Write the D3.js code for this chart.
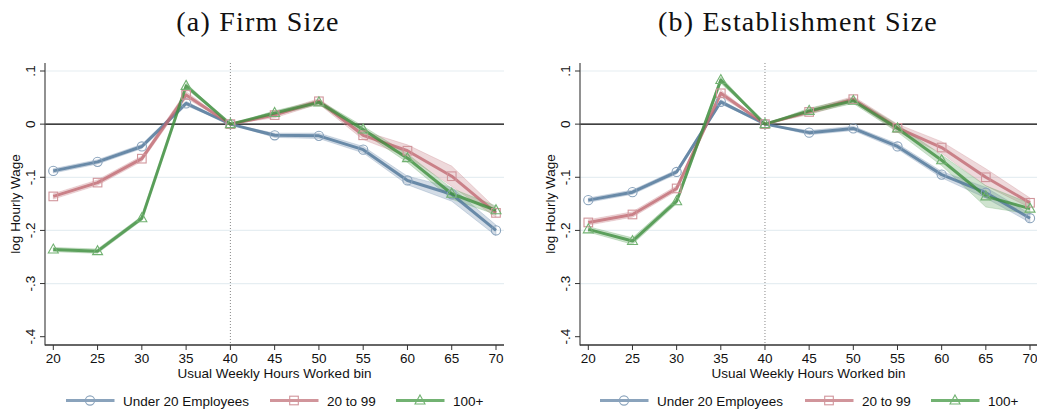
<!DOCTYPE html>
<html><head><meta charset="utf-8">
<script src="https://cdn.jsdelivr.net/npm/d3@7"></script>
<style>body{margin:0;background:#fff}svg{display:block}</style>
</head><body>
<svg id="c" width="1037" height="412"></svg>
<script>
const hours = [20,25,30,35,40,45,50,55,60,65,70];
const xTicks = [20,25,30,35,40,45,50,55,60,65,70];
const yTicks = [0.1,0,-0.1,-0.2,-0.3,-0.4];
const yTickLabels = [".1","0","-.1","-.2","-.3","-.4"];
const seriesNames = ["Under 20 Employees","20 to 99","100+"];
const panelTitles = ["(a) Firm Size","(b) Establishment Size"];
const xLabel = "Usual Weekly Hours Worked bin";
const yLabel = "log Hourly Wage";

// Panel (a) Firm Size
const firmUnder20 = [-0.088,-0.071,-0.042,0.039,0,-0.021,-0.022,-0.048,-0.106,-0.132,-0.200];
const firm20to99  = [-0.136,-0.110,-0.065,0.055,0,0.017,0.043,-0.021,-0.050,-0.098,-0.167];
const firm100     = [-0.236,-0.239,-0.177,0.072,0,0.021,0.041,-0.010,-0.064,-0.131,-0.162];
const firmUnder20Se = [0.004,0.004,0.004,0.004,0,0.004,0.005,0.006,0.008,0.013,0.010];
const firm20to99Se  = [0.005,0.005,0.005,0.006,0,0.005,0.005,0.008,0.011,0.019,0.008];
const firm100Se     = [0.004,0.004,0.004,0.005,0,0.004,0.004,0.006,0.008,0.010,0.008];

// Panel (b) Establishment Size
const estUnder20 = [-0.143,-0.128,-0.090,0.042,0,-0.016,-0.008,-0.042,-0.095,-0.129,-0.177];
const est20to99  = [-0.185,-0.170,-0.121,0.058,0,0.023,0.047,-0.007,-0.044,-0.100,-0.148];
const est100     = [-0.198,-0.220,-0.145,0.083,0,0.025,0.044,-0.008,-0.068,-0.136,-0.159];
const estUnder20Se = [0.004,0.004,0.004,0.004,0,0.004,0.004,0.005,0.006,0.010,0.008];
const est20to99Se  = [0.005,0.005,0.005,0.006,0,0.005,0.005,0.007,0.011,0.016,0.009];
const est100Se     = [0.005,0.006,0.005,0.006,0,0.005,0.005,0.007,0.010,0.020,0.010];

const lineColors = ["#4f7599","#c06a73","#3f8f3f"];
const bandColors = ["#6d8cab","#c78088","#5fa35f"];
const legendColors = ["#8aa3bc","#d1959b","#72b272"];

const svg = d3.select("#c");
const SANS = "'Liberation Sans', Arial, sans-serif";

const panels = [
  {title: panelTitles[0], series:[firmUnder20,firm20to99,firm100], se:[firmUnder20Se,firm20to99Se,firm100Se],
   axisX:45, right:504, x20:53.3, x70:496, titleX:258, legendX:[66,270,396]},
  {title: panelTitles[1], series:[estUnder20,est20to99,est100], se:[estUnder20Se,est20to99Se,est100Se],
   axisX:580, right:1037, x20:588.3, x70:1030, titleX:798, legendX:[600,805,931]}
];

const yTop = 63, yBottom = 345;
const y = d3.scaleLinear().domain([-0.4,0.1]).range([336.7,71]);

function marker(g, k, cx, cy, color) {
  if (k===0) g.append("circle").attr("cx",cx).attr("cy",cy).attr("r",4.6)
      .attr("fill","none").attr("stroke",color).attr("stroke-width",1.1);
  else if (k===1) g.append("rect").attr("x",cx-4.3).attr("y",cy-4.3).attr("width",8.6).attr("height",8.6)
      .attr("fill","none").attr("stroke",color).attr("stroke-width",1.1);
  else g.append("path").attr("d",`M${cx},${cy-5.5}L${cx+5},${cy+3.5}L${cx-5},${cy+3.5}Z`)
      .attr("fill","none").attr("stroke",color).attr("stroke-width",1.1);
}

panels.forEach(p => {
  const x = d3.scaleLinear().domain([20,70]).range([p.x20,p.x70]);
  const g = svg.append("g");

  // title
  g.append("text").attr("x",p.titleX).attr("y",31).attr("text-anchor","middle")
    .attr("font-family","'Liberation Serif','Times New Roman',serif").attr("font-size",28)
    .attr("letter-spacing",1.2).attr("fill","#111").text(p.title);

  // gridlines
  yTicks.forEach(t => {
    if (t===0 || t===-0.4) return;
    g.append("line").attr("x1",p.axisX).attr("x2",p.right).attr("y1",y(t)).attr("y2",y(t))
      .attr("stroke","#e6eef2").attr("stroke-width",1.2);
  });
  // zero line
  g.append("line").attr("x1",p.axisX).attr("x2",p.right).attr("y1",y(0)).attr("y2",y(0))
    .attr("stroke","#000").attr("stroke-width",1.2);
  // vertical dotted at 40
  g.append("line").attr("x1",x(40)).attr("x2",x(40)).attr("y1",yTop).attr("y2",yBottom)
    .attr("stroke","#888").attr("stroke-width",1).attr("stroke-dasharray","1,2");

  // bands
  p.series.forEach((s,k) => {
    const area = d3.area().x((d,i)=>x(hours[i])).y0((d,i)=>y(d-p.se[k][i])).y1((d,i)=>y(d+p.se[k][i]));
    g.append("path").attr("d",area(s)).attr("fill",bandColors[k]).attr("fill-opacity",0.3)
      .attr("stroke",bandColors[k]).attr("stroke-opacity",0.35).attr("stroke-width",0.8);
  });
  // lines
  p.series.forEach((s,k) => {
    const line = d3.line().x((d,i)=>x(hours[i])).y(d=>y(d));
    g.append("path").attr("d",line(s)).attr("fill","none").attr("stroke",lineColors[k])
      .attr("stroke-width",3).attr("stroke-opacity",0.8).attr("stroke-linejoin","round");
  });
  // markers
  p.series.forEach((s,k) => {
    s.forEach((d,i) => marker(g,k,x(hours[i]),y(d),legendColors[k]));
  });

  // axes
  g.append("line").attr("x1",p.axisX).attr("x2",p.axisX).attr("y1",yTop).attr("y2",yBottom+0.5)
    .attr("stroke","#555").attr("stroke-width",1.3);
  g.append("line").attr("x1",p.axisX).attr("x2",p.right).attr("y1",yBottom).attr("y2",yBottom)
    .attr("stroke","#333").attr("stroke-width",1.3);

  yTicks.forEach((t,i) => {
    g.append("line").attr("x1",p.axisX-5).attr("x2",p.axisX).attr("y1",y(t)).attr("y2",y(t))
      .attr("stroke","#333").attr("stroke-width",1);
    g.append("text").attr("transform",`translate(${p.axisX-10},${y(t)}) rotate(-90)`)
      .attr("text-anchor","middle").attr("font-family",SANS).attr("font-size",13.5).attr("fill","#111")
      .text(yTickLabels[i]);
  });
  xTicks.forEach(t => {
    g.append("line").attr("x1",x(t)).attr("x2",x(t)).attr("y1",yBottom).attr("y2",yBottom+5)
      .attr("stroke","#333").attr("stroke-width",1);
    g.append("text").attr("x",x(t)).attr("y",363).attr("text-anchor","middle")
      .attr("font-family",SANS).attr("font-size",13.5).attr("fill","#111").text(t);
  });
  g.append("text").attr("x",(p.axisX+p.right)/2).attr("y",378).attr("text-anchor","middle")
    .attr("font-family",SANS).attr("font-size",13.5).attr("fill","#111").text(xLabel);
  g.append("text").attr("transform",`translate(${p.axisX-25},${(yTop+yBottom)/2}) rotate(-90)`)
    .attr("text-anchor","middle").attr("font-family",SANS).attr("font-size",13.5).attr("fill","#111").text(yLabel);

  // legend
  seriesNames.forEach((n,k) => {
    const lx = p.legendX[k];
    g.append("line").attr("x1",lx).attr("x2",lx+48.5).attr("y1",400.5).attr("y2",400.5)
      .attr("stroke",legendColors[k]).attr("stroke-width",3);
    marker(g,k,lx+24,400.5,legendColors[k]);
    g.append("text").attr("x",lx+57).attr("y",405.5).attr("font-family",SANS).attr("font-size",13.5)
      .attr("fill","#111").text(n);
  });
});
</script>
</body></html>
